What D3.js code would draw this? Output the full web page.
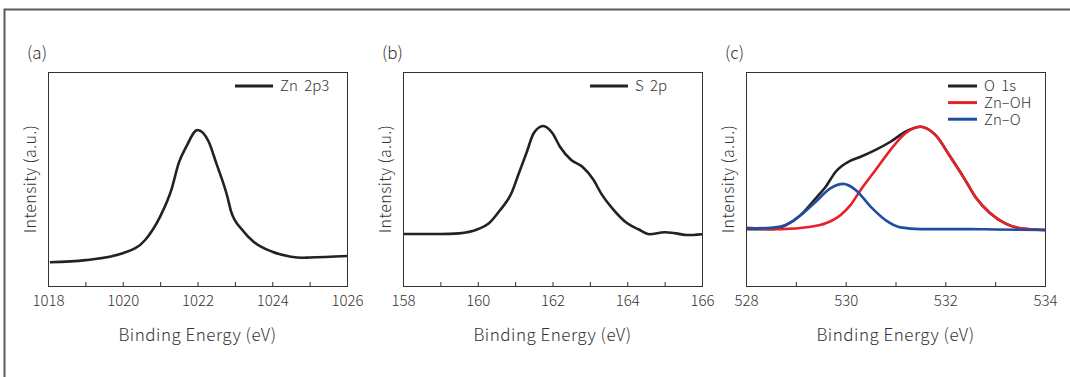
<!DOCTYPE html>
<html lang="en">
  <head>
    <meta charset="utf-8">
    <title>XPS spectra</title>
    <style type="text/css">
      body{margin: 0; padding: 0; background: white;}
      svg{display: block;}
      text{font-family: 'Noto Sans CJK KR', 'Noto Sans', sans-serif; font-weight: 300; fill: #333;}
      .tick text{font-size: 15px;}
      .frame{fill: none; stroke: #5a5a5a; stroke-width: 2;}
      .box{fill: none; stroke: #333; stroke-width: 1;}
      .curve{fill: none; stroke-width: 2.6; stroke-linejoin: round;}
    </style>
  </head>
  <body>
    <div id='svg_container'></div>

    <script src="https://d3js.org/d3.v7.min.js"></script>
    <script type="text/javascript">

      const w = 1070;
      const h = 377;

      // (a) Zn 2p3
      const znEnergy = [1018.05, 1019, 1020, 1020.6, 1021, 1021.3, 1021.5, 1021.7, 1022, 1022.3, 1022.5, 1022.8, 1022.9, 1023.2, 1023.5, 1024, 1024.5, 1024.8, 1025, 1026];
      const znCounts = [11.1, 12.1, 15.3, 21.5, 32.4, 44.9, 57.5, 65.1, 72.9, 67.4, 57.5, 41.7, 34.7, 26.2, 20.7, 16.0, 13.7, 13.2, 13.3, 14.0];

      // (b) S 2p
      const sEnergy = [158, 159, 159.5, 160, 160.3, 160.6, 160.9, 161.1, 161.3, 161.5, 161.75, 162.0, 162.2, 162.5, 162.8, 163.1, 163.3, 163.6, 164, 164.3, 164.6, 165.0, 165.3, 165.6, 166];
      const sCounts = [24.3, 24.3, 24.6, 26.5, 29.3, 35.5, 43.3, 52.7, 62.0, 71.5, 74.8, 71.4, 65.1, 58.9, 55.7, 49.5, 43.3, 36.3, 29.3, 26.5, 24.2, 25.1, 24.6, 23.8, 24.2];

      // (c) O 1s and its two fitted components
      const oEnergy = [528, 528.5, 528.8, 529.1, 529.4, 529.6, 529.8, 530.1, 530.3, 530.6, 530.9, 531.2, 531.5, 531.8, 532.1, 532.4, 532.6, 532.9, 533.2, 533.5, 534];
      const oCounts = [26.5, 26.5, 28.5, 33.2, 41.0, 46.4, 53.4, 58.6, 60.4, 63.6, 67.4, 72.1, 74.4, 70.6, 60.4, 49.5, 41.7, 34.0, 29.3, 27.0, 26.2];
      const ohEnergy = [528, 528.7, 529.3, 529.6, 529.9, 530.1, 530.3, 530.6, 530.9, 531.2, 531.5, 531.8, 532.1, 532.4, 532.6, 532.9, 533.2, 533.5, 534];
      const ohCounts = [27.2, 26.6, 27.7, 29.3, 33.2, 37.9, 44.9, 54.2, 63.6, 71.4, 74.4, 70.6, 60.4, 49.5, 41.7, 34.0, 29.3, 27.0, 26.2];
      const znoEnergy = [528, 528.5, 528.8, 529.1, 529.4, 529.7, 529.95, 530.2, 530.5, 530.8, 531.1, 531.5, 532.5, 533, 534];
      const znoCounts = [26.8, 27.2, 28.5, 33.2, 39.4, 45.7, 47.7, 44.9, 37.1, 30.8, 27.4, 26.6, 26.6, 26.4, 26.2];

      const panels = [
        {tag: '(a)', left: 48, domain: [1018, 1026], labels: [1018, 1020, 1022, 1024, 1026],
         series: [{name: 'Zn 2p3', x: znEnergy, y: znCounts, color: '#222'}]},
        {tag: '(b)', left: 403, domain: [158, 166], labels: [158, 160, 162, 164, 166],
         series: [{name: 'S 2p', x: sEnergy, y: sCounts, color: '#222'}]},
        {tag: '(c)', left: 746, domain: [528, 534], labels: [528, 530, 532, 534],
         series: [{name: 'O 1s', x: oEnergy, y: oCounts, color: '#222'},
                  {name: 'Zn\u2013OH', x: ohEnergy, y: ohCounts, color: '#e8202a'},
                  {name: 'Zn\u2013O', x: znoEnergy, y: znoCounts, color: '#1f4ea1'}]}
      ];

      const pw = 299, panelTop = 72, ph = 214;

      const svg = d3.select('#svg_container').append('svg')
        .attr('width', w).attr('height', h);

      // outer frame (only top and left edges are in view)
      svg.append('rect').attr('class', 'frame')
        .attr('x', 4.5).attr('y', 9.5).attr('width', w + 20).attr('height', h + 20);

      panels.forEach(function(p){
        var x = d3.scaleLinear().domain(p.domain).range([0, pw]);
        var y = d3.scaleLinear().domain([0, 100]).range([ph, 0]);
        var g = svg.append('g').attr('transform', 'translate(' + p.left + ',' + panelTop + ')');

        // minor ticks every 1 eV, inward
        var allTicks = d3.range(p.domain[0], p.domain[1] + 0.5, 1);
        var ax = g.append('g').attr('transform', 'translate(0,' + ph + ')')
          .call(d3.axisBottom(x).tickValues(allTicks).tickSizeInner(-4).tickSizeOuter(0)
            .tickFormat(function(d){ return p.labels.indexOf(d) >= 0 ? d : ''; }));
        ax.select('.domain').remove();
        ax.selectAll('.tick line').attr('stroke', '#333');
        ax.selectAll('.tick text').attr('y', 9).attr('dy', '0.71em');

        var line = d3.line()
          .x(function(d){ return x(d[0]); })
          .y(function(d){ return y(d[1]); })
          .curve(d3.curveMonotoneX);

        p.series.forEach(function(s){
          g.append('path').attr('class', 'curve')
            .datum(d3.zip(s.x, s.y))
            .attr('stroke', s.color)
            .attr('d', line);
        });

        g.append('rect').attr('class', 'box')
          .attr('x', 0.5).attr('y', 0.5).attr('width', pw).attr('height', ph);

        // legend
        var multi = p.series.length > 1;
        var lx0 = multi ? pw - 97 : pw - 112;
        var lx1 = multi ? pw - 68 : pw - 74;
        var leg = g.selectAll('.leg').data(p.series).enter().append('g')
          .attr('transform', function(d, i){ return 'translate(0,' + (14 + i * 16.6) + ')'; });
        leg.append('line')
          .attr('x1', lx0).attr('x2', lx1)
          .attr('stroke', function(d){ return d.color; })
          .attr('stroke-width', 3);
        leg.append('text')
          .attr('x', lx1 + 7).attr('dy', '0.36em')
          .style('font-size', '15px').style('word-spacing', '3px')
          .text(function(d){ return d.name; });

        g.append('text')
          .attr('x', -21).attr('y', -13)
          .style('font-size', '17px')
          .text(p.tag);

        g.append('text')
          .attr('x', pw / 2).attr('y', ph + 55)
          .attr('text-anchor', 'middle')
          .style('font-size', '17px').style('letter-spacing', '0.5px')
          .text('Binding Energy (eV)');

        g.append('text')
          .attr('transform', 'translate(-12,' + (ph / 2) + ') rotate(-90)')
          .attr('text-anchor', 'middle')
          .style('font-size', '16px').style('letter-spacing', '0.4px')
          .text('Intensity (a.u.)');
      });
    </script>
  </body>
</html>
